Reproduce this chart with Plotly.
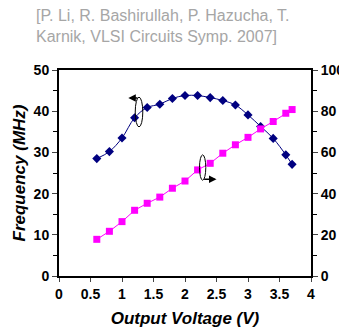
import plotly.graph_objects as go

voltage = [0.6, 0.8, 1.0, 1.2, 1.4, 1.6, 1.8, 2.0, 2.2, 2.4, 2.6, 2.8, 3.0, 3.2, 3.4, 3.6, 3.7]
freq_mhz = [28.5, 30.2, 33.5, 38.4, 40.9, 41.7, 43.1, 43.8, 43.8, 43.3, 42.6, 41.5, 39.1, 36.3, 33.4, 29.4, 27.1]
right_series = [17.8, 21.7, 26.4, 31.9, 35.3, 38.3, 42.6, 46.1, 51.5, 54.7, 59.6, 63.7, 67.3, 71.4, 75.0, 79.0, 80.8]

FONT = "Arial, Liberation Sans, sans-serif"

fig = go.Figure()
fig.add_trace(go.Scatter(
    x=voltage, y=freq_mhz, mode="lines+markers",
    line=dict(color="#000080", width=1, shape="spline"),
    marker=dict(symbol="diamond", size=7, color="#000080"),
    yaxis="y", showlegend=False))
fig.add_trace(go.Scatter(
    x=voltage, y=right_series, mode="lines+markers",
    line=dict(color="#ff00ff", width=1),
    marker=dict(symbol="square", size=7, color="#ff00ff"),
    yaxis="y2", showlegend=False))

tickfont = dict(family=FONT, size=14, color="black", weight="bold")
titlefont = dict(family=FONT, size=17, color="black")

fig.update_layout(
    width=339, height=322,
    margin=dict(l=51, r=36, t=62, b=54),
    paper_bgcolor="white", plot_bgcolor="white",
    xaxis=dict(range=[0, 4], dtick=0.5, ticks="outside", ticklen=4, tickwidth=1,
               showline=True, linecolor="black", linewidth=2, mirror=True,
               showgrid=False, zeroline=False, tickfont=tickfont, automargin=False,
               title=dict(text="<b><i>Output Voltage (V)</i></b>", font=titlefont, standoff=11)),
    yaxis=dict(range=[0, 50], dtick=10, ticks="outside", ticklen=5, tickwidth=1,
               minor=dict(ticks="outside", ticklen=4, dtick=5, tickcolor="black"),
               showline=True, linecolor="black", linewidth=2, automargin=False,
               showgrid=False, zeroline=False, tickfont=tickfont,
               title=dict(text="<b><i>Frequency (MHz)</i></b>", font=titlefont, standoff=4)),
    yaxis2=dict(range=[0, 100], dtick=20, ticks="outside", ticklen=5, tickwidth=1,
                minor=dict(ticks="outside", ticklen=4, dtick=10, tickcolor="black"),
                overlaying="y", side="right", automargin=False,
                showline=True, linecolor="black", linewidth=2,
                showgrid=False, zeroline=False, tickfont=tickfont),
    font=dict(family=FONT),
)

# Title / reference text
fig.add_annotation(
    text="[P. Li, R. Bashirullah, P. Hazucha, T.<br>Karnik, VLSI Circuits Symp. 2007]",
    xref="paper", yref="paper", x=-0.1, y=1.215, xanchor="left", yanchor="middle",
    showarrow=False, align="left",
    font=dict(family=FONT, size=16, color="#a6a6a6"))

# Ellipse markers with arrows indicating axis
fig.add_shape(type="circle", xref="x", yref="y",
              x0=1.21, x1=1.33, y0=36.2, y1=43.4,
              line=dict(color="black", width=1))
fig.add_annotation(x=1.10, y=43.2, ax=1.27, ay=43.2, xref="x", yref="y",
                   axref="x", ayref="y", showarrow=True, arrowhead=2,
                   arrowsize=1, arrowwidth=1.5, arrowcolor="black", text="")
fig.add_shape(type="circle", xref="x", yref="y2",
              x0=2.23, x1=2.33, y0=46.5, y1=58.8,
              line=dict(color="black", width=1))
fig.add_annotation(x=2.50, y=47.0, ax=2.28, ay=47.0, xref="x", yref="y2",
                   axref="x", ayref="y2", showarrow=True, arrowhead=2,
                   arrowsize=1, arrowwidth=1.5, arrowcolor="black", text="")

fig.write_html("out.html")
